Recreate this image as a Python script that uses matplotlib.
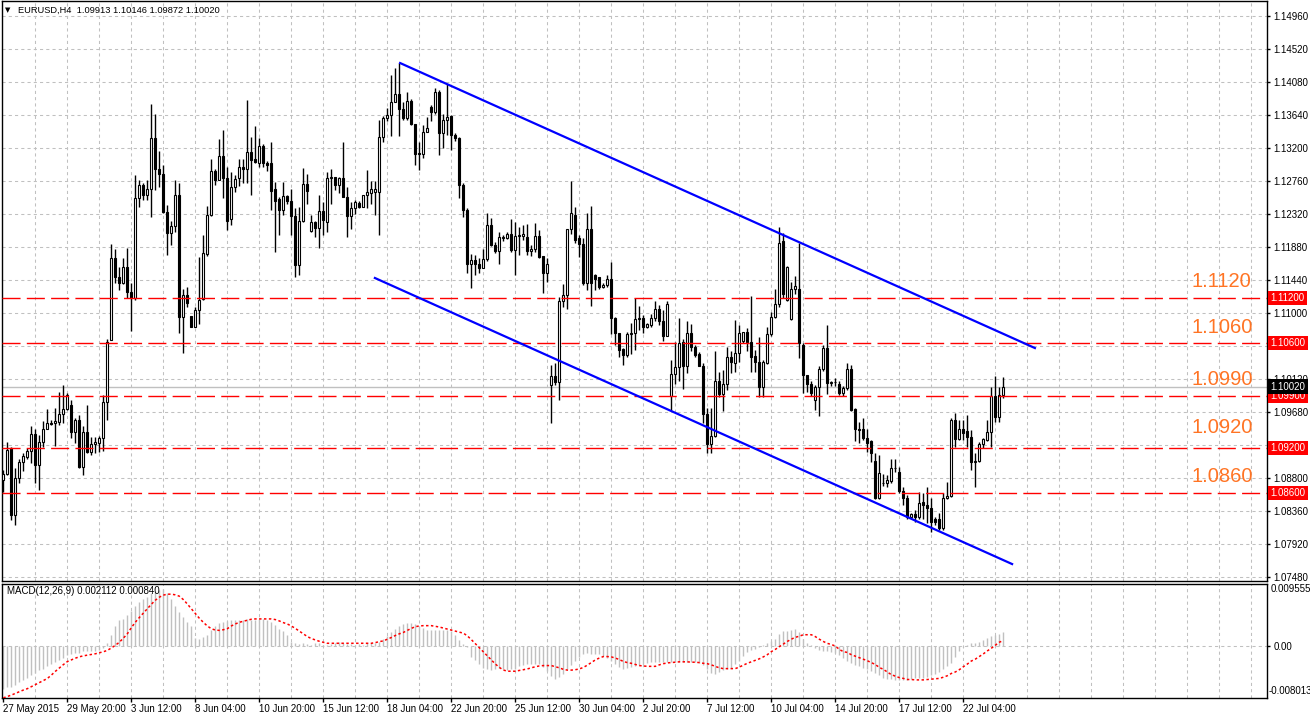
import matplotlib
matplotlib.use("Agg")
import matplotlib.pyplot as plt
import numpy as np

plt.rcParams['font.family'] = ['Liberation Sans', 'DejaVu Sans']

# --- chart data (EURUSD H4, one entry per bar) ---
opens = [
    1.0877, 1.0886, 1.0920, 1.0831, 1.0880, 1.0902, 1.0908, 1.0916, 1.0939, 1.0897,
    1.0928, 1.0946, 1.0953, 1.0953, 1.0955, 1.0965, 1.0972, 1.0978, 1.0941, 1.0958,
    1.0895, 1.0942, 1.0915, 1.0925, 1.0927, 1.0933, 1.0981, 1.1064, 1.1173, 1.1148,
    1.1140, 1.1161, 1.1128, 1.1120, 1.1253, 1.1271, 1.1258, 1.1265, 1.1334, 1.1292,
    1.1285, 1.1235, 1.1207, 1.1216, 1.1257, 1.1095, 1.1124, 1.1096, 1.1082, 1.1104,
    1.1119, 1.1179, 1.1231, 1.1289, 1.1278, 1.1309, 1.1280, 1.1225, 1.1268, 1.1280,
    1.1295, 1.1292, 1.1315, 1.1305, 1.1300, 1.1323, 1.1300, 1.1300, 1.1265, 1.1252,
    1.1238, 1.1256, 1.1250, 1.1230, 1.1164, 1.1223, 1.1272, 1.1210, 1.1221, 1.1213,
    1.1236, 1.1222, 1.1280, 1.1281, 1.1271, 1.1280, 1.1255, 1.1230, 1.1240, 1.1247,
    1.1242, 1.1257, 1.1260, 1.1262, 1.1262, 1.1335, 1.1360, 1.1364, 1.1382, 1.1392,
    1.1372, 1.1360, 1.1383, 1.1352, 1.1314, 1.1312, 1.1341, 1.1375, 1.1368, 1.1395,
    1.1340, 1.1358, 1.1363, 1.1338, 1.1334, 1.1271, 1.1237, 1.1166, 1.1171, 1.1165,
    1.1160, 1.1172, 1.1217, 1.1191, 1.1183, 1.1200, 1.1200, 1.1205, 1.1184, 1.1203,
    1.1203, 1.1202, 1.1183, 1.1186, 1.1203, 1.1176, 1.1153, 1.1004, 1.1016, 1.1008,
    1.1116, 1.1124, 1.1212, 1.1231, 1.1200, 1.1192, 1.1140, 1.1212, 1.1151, 1.1148,
    1.1135, 1.1137, 1.1146, 1.1094, 1.1073, 1.1052, 1.1044, 1.1072, 1.1074, 1.1092,
    1.1093, 1.1082, 1.1084, 1.1094, 1.1105, 1.1090, 1.1070, 1.0989, 1.1019, 1.1028,
    1.1062, 1.1029, 1.1073, 1.1055, 1.1046, 1.1030, 1.0965, 1.0925, 1.0936, 1.1009,
    1.0992, 1.1006, 1.1041, 1.1034, 1.1047, 1.1063, 1.1075, 1.1062, 1.1043, 1.1035,
    1.1001, 1.1034, 1.1072, 1.1095, 1.1112, 1.1196, 1.1118, 1.1092, 1.1132, 1.1132,
    1.1057, 1.1017, 1.1006, 1.0984, 1.1002, 1.1025, 1.1053, 1.1007, 1.1008, 1.1006,
    1.0994, 1.1000, 1.1025, 1.0972, 1.0946, 1.0946, 1.0934, 1.0929, 1.0903, 1.0854,
    1.0874, 1.0874, 1.0876, 1.0893, 1.0888, 1.0863, 1.0854, 1.0828, 1.0832, 1.0828,
    1.0848, 1.0844, 1.0840, 1.0825, 1.0825, 1.0813, 1.0853, 1.0856, 1.0957, 1.0932,
    1.0945, 1.0943, 1.0935, 1.0902, 1.0903, 1.0926, 1.0931, 1.0941, 1.0989, 1.0962, 1.09913,
]
highs = [
    1.0891, 1.0928, 1.0922, 1.0893, 1.0906, 1.0913, 1.0920, 1.0949, 1.0946, 1.0937,
    1.0956, 1.0972, 1.0957, 1.0973, 1.0995, 1.1004, 1.0994, 1.0984, 1.0960, 1.0964,
    1.0949, 1.0977, 1.0935, 1.0935, 1.0936, 1.0991, 1.1066, 1.1192, 1.1186, 1.1162,
    1.1173, 1.1187, 1.1140, 1.1284, 1.1277, 1.1273, 1.1277, 1.1379, 1.1366, 1.1316,
    1.1297, 1.1244, 1.1223, 1.1278, 1.1273, 1.1132, 1.1135, 1.1096, 1.1108, 1.1175,
    1.1204, 1.1243, 1.1305, 1.1292, 1.1332, 1.1344, 1.1295, 1.1288, 1.1284, 1.1305,
    1.1306, 1.1384, 1.1335, 1.1350, 1.1334, 1.1325, 1.1303, 1.1328, 1.1275, 1.1255,
    1.1275, 1.1257, 1.1265, 1.1240, 1.1242, 1.1294, 1.1286, 1.1231, 1.1223, 1.1258,
    1.1248, 1.1288, 1.1292, 1.1282, 1.1282, 1.1328, 1.1268, 1.1248, 1.1251, 1.1250,
    1.1258, 1.1291, 1.1276, 1.1276, 1.1357, 1.1363, 1.1373, 1.1417, 1.1427, 1.1434,
    1.1382, 1.1395, 1.1386, 1.1352, 1.1328, 1.1351, 1.1362, 1.1377, 1.1400, 1.1397,
    1.1366, 1.1406, 1.1364, 1.1340, 1.1335, 1.1273, 1.1240, 1.1179, 1.1178, 1.1174,
    1.1186, 1.1233, 1.1227, 1.1195, 1.1208, 1.1204, 1.1208, 1.1226, 1.1222, 1.1215,
    1.1217, 1.1219, 1.1191, 1.1220, 1.1211, 1.1176, 1.1174, 1.1031, 1.1033, 1.1122,
    1.1139, 1.1212, 1.1276, 1.1241, 1.1204, 1.1200, 1.1233, 1.1243, 1.1152, 1.1148,
    1.1140, 1.1151, 1.1168, 1.1095, 1.1074, 1.1053, 1.1075, 1.1087, 1.1120, 1.1109,
    1.1097, 1.1087, 1.1099, 1.1116, 1.1111, 1.1104, 1.1116, 1.1037, 1.1061, 1.1093,
    1.1066, 1.1089, 1.1085, 1.1058, 1.1048, 1.1033, 1.0974, 1.0974, 1.1050, 1.1022,
    1.1024, 1.1055, 1.1049, 1.1091, 1.1084, 1.1075, 1.1080, 1.1123, 1.1051, 1.1068,
    1.1037, 1.1081, 1.1102, 1.1132, 1.1215, 1.1207, 1.1163, 1.1142, 1.1150, 1.1194,
    1.1060, 1.1018, 1.1010, 1.1004, 1.1029, 1.1057, 1.1084, 1.1010, 1.1013, 1.1010,
    1.1003, 1.1033, 1.1031, 1.0973, 1.0955, 1.0960, 1.0946, 1.0931, 1.0913, 1.0911,
    1.0886, 1.0884, 1.0905, 1.0905, 1.0895, 1.0868, 1.0857, 1.0834, 1.0837, 1.0862,
    1.0860, 1.0868, 1.0853, 1.0828, 1.0833, 1.0860, 1.0875, 1.0960, 1.0967, 1.0957,
    1.0957, 1.0964, 1.0944, 1.0913, 1.0928, 1.0933, 1.0957, 1.1002, 1.1016, 1.1002, 1.10146,
]
lows = [
    1.0862, 1.0884, 1.0824, 1.0817, 1.0874, 1.0889, 1.0906, 1.0900, 1.0873, 1.0864,
    1.0922, 1.0945, 1.0951, 1.0923, 1.0951, 1.0953, 1.0971, 1.0933, 1.0927, 1.0893,
    1.0884, 1.0913, 1.0911, 1.0913, 1.0915, 1.0916, 1.0957, 1.1064, 1.1140, 1.1131,
    1.1139, 1.1120, 1.1076, 1.1118, 1.1241, 1.1251, 1.1251, 1.1228, 1.1264, 1.1268,
    1.1233, 1.1178, 1.1191, 1.1208, 1.1073, 1.1047, 1.1108, 1.1082, 1.1082, 1.1086,
    1.1118, 1.1176, 1.1229, 1.1271, 1.1277, 1.1254, 1.1211, 1.1217, 1.1262, 1.1269,
    1.1274, 1.1274, 1.1257, 1.1300, 1.1295, 1.1295, 1.1290, 1.1237, 1.1181, 1.1204,
    1.1231, 1.1246, 1.1204, 1.1148, 1.1151, 1.1222, 1.1246, 1.1208, 1.1202, 1.1187,
    1.1204, 1.1208, 1.1246, 1.1264, 1.1260, 1.1255, 1.1202, 1.1212, 1.1232, 1.1240,
    1.1242, 1.1240, 1.1246, 1.1231, 1.1204, 1.1328, 1.1356, 1.1336, 1.1382, 1.1336,
    1.1357, 1.1357, 1.1351, 1.1297, 1.1291, 1.1307, 1.1341, 1.1356, 1.1366, 1.1311,
    1.1320, 1.1337, 1.1317, 1.1329, 1.1253, 1.1228, 1.1153, 1.1133, 1.1151, 1.1153,
    1.1160, 1.1170, 1.1190, 1.1180, 1.1166, 1.1196, 1.1199, 1.1181, 1.1151, 1.1177,
    1.1198, 1.1177, 1.1176, 1.1182, 1.1174, 1.1127, 1.1142, 1.0953, 1.1004, 1.0984,
    1.1108, 1.1106, 1.1206, 1.1194, 1.1175, 1.1138, 1.1131, 1.1109, 1.1131, 1.1132,
    1.1134, 1.1135, 1.1072, 1.1057, 1.1042, 1.1031, 1.1041, 1.1046, 1.1051, 1.1077,
    1.1074, 1.1080, 1.1082, 1.1090, 1.1084, 1.1063, 1.1070, 1.0970, 1.1006, 1.1010,
    1.0999, 1.1020, 1.1050, 1.1042, 1.1029, 1.0953, 1.0914, 1.0914, 1.0935, 1.0988,
    1.0970, 1.0997, 1.1020, 1.1022, 1.1035, 1.1060, 1.1049, 1.1022, 1.1022, 1.0988,
    1.0988, 1.1032, 1.1069, 1.1094, 1.1108, 1.1120, 1.1116, 1.1091, 1.1125, 1.1040,
    1.0993, 1.0995, 1.0990, 1.0971, 1.0963, 1.1023, 1.0992, 1.1003, 1.1003, 1.0991,
    1.0990, 1.0998, 1.0969, 1.0930, 1.0927, 1.0931, 1.0915, 1.0902, 1.0852, 1.0852,
    1.0870, 1.0868, 1.0873, 1.0888, 1.0860, 1.0844, 1.0825, 1.0827, 1.0822, 1.0826,
    1.0826, 1.0820, 1.0808, 1.0818, 1.0811, 1.0811, 1.0852, 1.0855, 1.0922, 1.0931,
    1.0931, 1.0922, 1.0891, 1.0868, 1.0902, 1.0920, 1.0930, 1.0922, 1.0955, 1.0955, 1.09872,
]
closes = [
    1.0886, 1.0917, 1.0831, 1.0880, 1.0902, 1.0909, 1.0916, 1.0939, 1.0897, 1.0928,
    1.0946, 1.0953, 1.0952, 1.0956, 1.0965, 1.0972, 1.0991, 1.0941, 1.0958, 1.0895,
    1.0942, 1.0915, 1.0925, 1.0928, 1.0933, 1.0981, 1.1062, 1.1173, 1.1148, 1.1140,
    1.1161, 1.1128, 1.1120, 1.1253, 1.1271, 1.1258, 1.1265, 1.1334, 1.1292, 1.1285,
    1.1235, 1.1207, 1.1216, 1.1257, 1.1095, 1.1124, 1.1113, 1.1082, 1.1104, 1.1117,
    1.1180, 1.1231, 1.1289, 1.1278, 1.1309, 1.1280, 1.1223, 1.1268, 1.1279, 1.1295,
    1.1292, 1.1315, 1.1304, 1.1302, 1.1323, 1.1300, 1.1297, 1.1263, 1.1250, 1.1238,
    1.1256, 1.1250, 1.1230, 1.1164, 1.1223, 1.1272, 1.1263, 1.1221, 1.1213, 1.1236,
    1.1224, 1.1280, 1.1281, 1.1271, 1.1280, 1.1255, 1.1230, 1.1240, 1.1248, 1.1242,
    1.1257, 1.1262, 1.1265, 1.1265, 1.1335, 1.1360, 1.1364, 1.1382, 1.1392, 1.1372,
    1.1360, 1.1383, 1.1352, 1.1312, 1.1312, 1.1341, 1.1347, 1.1368, 1.1395, 1.1340,
    1.1358, 1.1362, 1.1338, 1.1334, 1.1271, 1.1237, 1.1166, 1.1171, 1.1165, 1.1160,
    1.1172, 1.1217, 1.1191, 1.1183, 1.1202, 1.1202, 1.1205, 1.1184, 1.1203, 1.1204,
    1.1205, 1.1183, 1.1186, 1.1203, 1.1175, 1.1153, 1.1165, 1.1016, 1.1008, 1.1116,
    1.1124, 1.1212, 1.1233, 1.1197, 1.1192, 1.1140, 1.1212, 1.1140, 1.1146, 1.1135,
    1.1137, 1.1146, 1.1094, 1.1073, 1.1051, 1.1044, 1.1072, 1.1074, 1.1092, 1.1093,
    1.1082, 1.1085, 1.1094, 1.1105, 1.1090, 1.1070, 1.1112, 1.1019, 1.1028, 1.1060,
    1.1029, 1.1073, 1.1055, 1.1044, 1.1030, 1.0965, 1.0925, 1.0936, 1.1009, 1.0992,
    1.1006, 1.1041, 1.1035, 1.1047, 1.1073, 1.1075, 1.1062, 1.1042, 1.1035, 1.1001,
    1.1035, 1.1072, 1.1095, 1.1112, 1.1194, 1.1125, 1.1161, 1.1132, 1.1136, 1.1060,
    1.1018, 1.1006, 1.0993, 1.1002, 1.1025, 1.1053, 1.1007, 1.1008, 1.1008, 1.0994,
    1.1000, 1.1025, 1.0971, 1.0945, 1.0944, 1.0933, 1.0927, 1.0913, 1.0854, 1.0887,
    1.0874, 1.0877, 1.0893, 1.0894, 1.0863, 1.0854, 1.0828, 1.0832, 1.0828, 1.0847,
    1.0844, 1.0840, 1.0822, 1.0822, 1.0813, 1.0853, 1.0856, 1.0958, 1.0932, 1.0945,
    1.0940, 1.0935, 1.0902, 1.0903, 1.0926, 1.0932, 1.0941, 1.0989, 1.0962, 1.0991, 1.10020,
]

# MACD(12,26,9) main (histogram) and signal, in units of 1e-4
macd_main = [
    -66.4, -63.8, -62.8, -59.6, -56.0, -52.3, -49.2, -45.5, -41.8, -37.7,
    -35.0, -31.4, -27.2, -24.6, -20.9, -17.8, -14.6, -12.6, -11.5, -10.5,
    -8.4, -8.4, -7.8, -7.3, -6.3, -3.7, 4.2, 17.3, 30.3, 39.7,
    41.8, 47.1, 53.9, 61.7, 68.0, 73.2, 76.4, 81.6, 85.2, 86.8,
    87.9, 81.6, 72.2, 61.7, 52.3, 45.0, 36.6, 30.3, 12.0, 10.5,
    13.6, 17.3, 25.1, 30.3, 35.6, 37.7, 38.7, 39.7, 39.7, 39.7,
    40.3, 41.8, 40.8, 40.8, 41.8, 41.8, 40.8, 37.7, 32.9, 26.2,
    22.5, 17.3, 6.8, 4.2, 3.1, 4.2, 3.1, 1.6, 4.2, 4.2,
    2.1, 1.6, 3.1, 4.2, 6.3, 4.2, 3.1, 2.6, 1.0, 3.1,
    2.1, 4.2, 4.2, 4.2, 6.3, 10.5, 15.7, 20.9, 26.2, 31.4,
    33.5, 35.6, 35.6, 33.5, 30.3, 27.7, 25.1, 25.1, 25.1, 25.1,
    25.1, 24.1, 22.5, 17.3, 9.4, 3.1, -2.1, -16.7, -22.0, -27.2,
    -33.5, -35.0, -36.6, -35.0, -34.5, -36.0, -36.6, -36.0, -35.4, -31.4,
    -29.1, -27.3, -27.3, -27.3, -28.5, -32.5, -38.9, -45.9, -50.5, -47.6,
    -43.0, -36.0, -29.1, -22.7, -16.8, -12.8, -10.5, -11.6, -11.6, -12.8,
    -15.7, -18.0, -23.2, -27.3, -32.0, -34.9, -34.3, -32.5, -30.2, -29.1,
    -27.3, -25.6, -24.4, -24.4, -24.4, -24.4, -24.4, -24.4, -24.4, -24.4,
    -24.4, -24.4, -24.4, -25.0, -26.1, -29.1, -34.9, -41.8, -43.0, -40.7,
    -37.2, -34.9, -33.7, -28.5, -23.2, -15.1, -9.9, -6.4, -4.1, -1.2,
    1.7, 5.2, 7.0, 10.5, 18.0, 22.7, 23.8, 25.0, 26.1, 22.1,
    11.0, 5.2, 2.3, -2.9, -5.8, -7.0, -7.6, -8.7, -10.5, -13.9,
    -18.6, -22.7, -26.7, -29.1, -31.4, -33.7, -35.4, -38.3, -41.8, -44.7,
    -48.8, -50.5, -50.5, -51.7, -52.9, -52.9, -51.7, -50.5, -50.0, -48.8,
    -48.8, -47.6, -45.3, -43.0, -39.5, -35.4, -30.8, -25.6, -16.8, -8.1,
    -1.7, 1.2, 4.1, 4.6, 6.4, 9.3, 12.2, 15.1, 17.5, 18.5, 21.1,
]
macd_signal = [
    -80.1, -77.9, -75.8, -73.2, -70.6, -68.0, -65.9, -62.8, -59.6, -56.5,
    -53.3, -50.2, -45.0, -39.2, -34.0, -28.8, -24.1, -21.4, -18.8, -16.7,
    -15.2, -14.1, -13.1, -12.0, -10.5, -8.9, -6.8, -3.1, 1.0, 5.8,
    12.0, 18.8, 28.2, 36.6, 43.9, 50.7, 57.5, 64.3, 70.6, 75.3,
    78.5, 80.0, 80.0, 79.0, 76.9, 71.7, 64.9, 57.5, 50.2, 42.9,
    36.6, 30.9, 26.7, 24.6, 24.1, 25.1, 26.7, 30.9, 34.0, 36.6,
    38.2, 39.7, 41.3, 41.8, 41.8, 41.8, 41.8, 41.8, 40.8, 38.7,
    36.1, 34.0, 30.9, 27.2, 23.0, 18.8, 14.6, 11.5, 9.4, 7.3,
    5.8, 4.2, 4.2, 4.2, 4.2, 4.2, 4.2, 4.2, 4.2, 4.2,
    4.2, 4.2, 4.2, 5.2, 6.8, 7.8, 10.5, 13.1, 16.2, 18.8,
    20.9, 24.1, 27.2, 29.8, 30.9, 31.4, 31.4, 31.4, 30.3, 29.3,
    27.7, 26.2, 24.6, 23.0, 21.4, 19.9, 15.7, 9.9, 3.7, -2.6,
    -8.9, -15.2, -21.4, -27.7, -33.0, -37.0, -38.9, -38.9, -38.9, -37.8,
    -36.6, -35.4, -33.7, -32.0, -30.8, -30.2, -30.2, -30.2, -32.0, -33.7,
    -36.0, -37.2, -37.2, -36.6, -35.4, -33.1, -29.6, -25.6, -21.5, -18.6,
    -16.3, -16.3, -16.8, -18.6, -20.9, -23.8, -25.6, -26.7, -28.5, -30.2,
    -30.8, -31.4, -31.4, -31.4, -29.1, -27.3, -26.1, -25.6, -25.0, -24.4,
    -24.4, -24.4, -25.0, -25.0, -25.6, -26.7, -27.3, -29.1, -31.4, -33.7,
    -34.9, -34.9, -34.9, -34.9, -32.5, -29.6, -26.7, -24.4, -22.1, -19.8,
    -16.8, -13.4, -8.7, -5.2, -1.2, 2.9, 7.0, 10.5, 13.4, 15.1,
    17.4, 17.4, 17.4, 14.5, 10.5, 7.0, 4.1, 2.3, 0.0, -5.2,
    -8.7, -9.9, -13.4, -15.7, -18.0, -20.3, -22.7, -25.6, -28.5, -33.1,
    -36.0, -40.1, -44.2, -46.5, -48.8, -50.0, -51.7, -51.7, -52.3, -52.3,
    -52.3, -51.7, -51.1, -50.5, -50.0, -48.2, -45.9, -42.4, -40.1, -36.6,
    -32.0, -27.9, -23.2, -20.3, -16.3, -12.2, -7.6, -3.5, 1.2, 5.8, 8.4,
]

level_prices = [1.1120, 1.1060, 1.0990, 1.0920, 1.0860]
level_names = ["1.1120", "1.1060", "1.0990", "1.0920", "1.0860"]
price_ticks = [1.14960, 1.14520, 1.14080, 1.13640, 1.13200, 1.12760, 1.12320, 1.11880, 1.11440,
               1.11000, 1.10560, 1.10120, 1.09680, 1.09240, 1.08800, 1.08360, 1.07920, 1.07480]
time_label_bars = [0, 16, 32, 48, 64, 80, 96, 112, 128, 144, 160, 176, 192, 208, 224, 240]
time_labels = ["27 May 2015", "29 May 20:00", "3 Jun 12:00", "8 Jun 04:00", "10 Jun 20:00",
               "15 Jun 12:00", "18 Jun 04:00", "22 Jun 20:00", "25 Jun 12:00", "30 Jun 04:00",
               "2 Jul 20:00", "7 Jul 12:00", "10 Jul 04:00", "14 Jul 20:00", "17 Jul 12:00",
               "22 Jul 04:00"]
channel_top_bars = [99.2, 257.9]
channel_top_prices = [1.14333, 1.10533]
channel_bottom_bars = [92.9, 252.2]
channel_bottom_prices = [1.11467, 1.07653]
last_price = 1.10020
symbol_title = "EURUSD,H4  1.09913 1.10146 1.09872 1.10020"
macd_title = "MACD(12,26,9) 0.002112 0.000840"
macd_max_label = "0.009555"
macd_min_label = "-0.008013"

# --- layout ---
W, H = 1310, 716
fig = plt.figure(figsize=(W / 100, H / 100), dpi=100, facecolor='white')
ax = fig.add_axes([2 / W, 1 - 581 / H, 1265 / W, 580 / H])
axm = fig.add_axes([2 / W, 1 - 698 / H, 1265 / W, 114 / H])

o = np.array(opens); h = np.array(highs); l = np.array(lows); c = np.array(closes)
x = np.arange(len(c))
grid_bars = np.arange(8, 316, 8)
grid_style = dict(color='#C0C0C0', lw=0.75, ls=(0, (3, 3)))

for a in (ax, axm):
    a.set_xlim(-0.325, 315.925)
    for s in a.spines.values():
        s.set_color('black')
        s.set_linewidth(1)
    for gx in grid_bars:
        a.axvline(gx, zorder=0.5, **grid_style)

# main price panel
ax.set_ylim(1.07427, 1.15160)
ax.set_xticks([])
ax.set_yticks(price_ticks)
ax.set_yticklabels([f"{p:.5f}" for p in price_ticks])
ax.yaxis.tick_right()
ax.tick_params(axis='y', direction='out', length=2.5, width=1, pad=2, labelsize=7)
for p in price_ticks:
    ax.axhline(p, zorder=0.5, **grid_style)

ax.axhline(last_price, color='#C0C0C0', lw=1, zorder=1)

up = c >= o
ax.vlines(x, l, h, color='black', lw=1, zorder=3)
ax.bar(x, np.abs(c - o), bottom=np.minimum(o, c), width=0.55,
       color=np.where(up, 'white', 'black'), edgecolor='black', linewidth=0.8, zorder=3.5)

for p in level_prices:
    ax.axhline(p, color='red', lw=1, ls=(0, (13, 4.5)), zorder=4)
for p, name, lift in zip(level_prices, level_names, [12, 11, 11.5, 15, 12]):
    ax.annotate(name, xy=(297, p), xytext=(0, lift), textcoords='offset points',
                color='#FF7424', fontsize=14.5, va='center', ha='left', zorder=6)

ax.plot(channel_top_bars, channel_top_prices, color='blue', lw=1.6, zorder=5)
ax.plot(channel_bottom_bars, channel_bottom_prices, color='blue', lw=1.6, zorder=5)

ytr = ax.get_yaxis_transform()
for p in level_prices:
    ax.text(1.0028, p, f"{p:.5f}", transform=ytr, color='white', fontsize=7, va='center',
            ha='left', clip_on=False, zorder=7,
            bbox=dict(boxstyle='square,pad=0.22', fc='red', ec='none'))
ax.text(1.0028, last_price, f"{last_price:.5f}", transform=ytr, color='white', fontsize=7,
        va='center', ha='left', clip_on=False, zorder=8,
        bbox=dict(boxstyle='square,pad=0.22', fc='black', ec='none'))

fig.text(5 / W, 1 - 10 / H, "\u25BC", fontsize=5, va='center', ha='left', family='DejaVu Sans')
fig.text(18 / W, 1 - 10 / H, symbol_title, fontsize=6.7, va='center', ha='left')

# MACD panel
mm = np.array(macd_main) * 1e-4
ms = np.array(macd_signal) * 1e-4
axm.set_ylim(-0.008025, 0.00957)
axm.axhline(0, zorder=0.5, **grid_style)
axm.vlines(x, 0, mm, color='#C0C0C0', lw=1, zorder=2)
axm.plot(x, ms, color='red', lw=1.1, ls=(0, (1.6, 1.6)), zorder=3)

axm.set_yticks([0])
axm.set_yticklabels(["0.00"])
axm.yaxis.tick_right()
axm.tick_params(axis='y', direction='out', length=2.5, width=1, pad=2, labelsize=7)
axm.text(1.003, 1 - 5 / 114, macd_max_label, transform=axm.transAxes, fontsize=7,
         va='center', ha='left', clip_on=False)
axm.text(1.001, 1 - 107 / 114, macd_min_label, transform=axm.transAxes, fontsize=7,
         va='center', ha='left', clip_on=False)

axm.set_xticks(time_label_bars)
axm.set_xticklabels(time_labels, ha='left')
axm.tick_params(axis='x', direction='out', length=3, width=1, pad=1.5, labelsize=7)

fig.text(7 / W, 1 - 591 / H, macd_title, fontsize=7, va='center', ha='left')

fig.savefig("out.png", dpi=100, facecolor='white')
